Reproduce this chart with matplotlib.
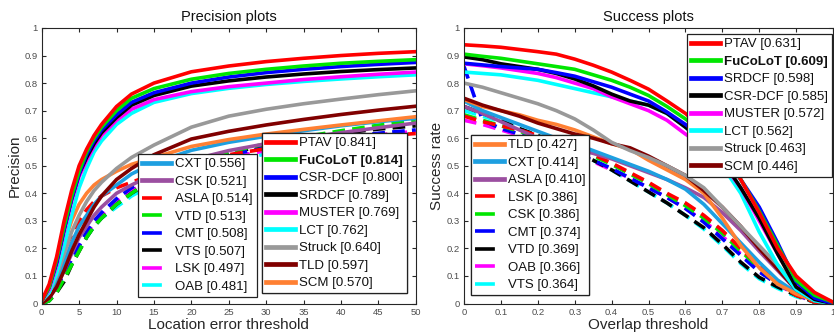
import matplotlib
matplotlib.use('Agg')
import matplotlib.pyplot as plt
from matplotlib.lines import Line2D

plt.rcParams['font.family'] = ['Liberation Sans', 'DejaVu Sans']

# ---------------- Precision plot data ----------------
prec_x = [0, 1, 2, 3, 4, 5, 6, 7, 8, 10, 12, 15, 20, 25, 30, 35, 40, 45, 50]

prec_ptav = [0.01, 0.07, 0.17, 0.30, 0.41, 0.50, 0.56, 0.61, 0.65, 0.715, 0.76, 0.80, 0.841, 0.862, 0.878, 0.890, 0.900, 0.908, 0.914]
prec_fucolot = [0.01, 0.06, 0.16, 0.28, 0.39, 0.48, 0.55, 0.60, 0.64, 0.70, 0.745, 0.78, 0.814, 0.835, 0.850, 0.862, 0.872, 0.879, 0.885]
prec_csrdcf = [0.01, 0.06, 0.15, 0.27, 0.38, 0.47, 0.54, 0.59, 0.63, 0.685, 0.73, 0.765, 0.800, 0.822, 0.838, 0.850, 0.860, 0.868, 0.875]
prec_srdcf = [0.01, 0.06, 0.15, 0.27, 0.38, 0.47, 0.53, 0.58, 0.62, 0.675, 0.72, 0.755, 0.789, 0.808, 0.822, 0.833, 0.842, 0.849, 0.855]
prec_muster = [0.01, 0.05, 0.14, 0.26, 0.37, 0.46, 0.52, 0.57, 0.61, 0.665, 0.705, 0.74, 0.769, 0.787, 0.800, 0.813, 0.823, 0.832, 0.840]
prec_lct = [0.01, 0.04, 0.11, 0.21, 0.32, 0.42, 0.49, 0.55, 0.59, 0.65, 0.69, 0.73, 0.762, 0.781, 0.795, 0.806, 0.815, 0.823, 0.830]
prec_struck = [0.01, 0.04, 0.10, 0.18, 0.26, 0.32, 0.37, 0.41, 0.44, 0.49, 0.53, 0.575, 0.640, 0.680, 0.705, 0.725, 0.742, 0.758, 0.772]
prec_tld = [0.0, 0.02, 0.06, 0.12, 0.19, 0.25, 0.30, 0.35, 0.39, 0.45, 0.49, 0.54, 0.597, 0.625, 0.648, 0.668, 0.686, 0.702, 0.716]
prec_scm = [0.01, 0.05, 0.13, 0.22, 0.30, 0.36, 0.40, 0.43, 0.45, 0.48, 0.505, 0.53, 0.570, 0.595, 0.615, 0.632, 0.648, 0.663, 0.678]
prec_cxt = [0.01, 0.03, 0.08, 0.15, 0.22, 0.28, 0.32, 0.36, 0.39, 0.43, 0.47, 0.51, 0.556, 0.585, 0.607, 0.627, 0.645, 0.660, 0.672]
prec_csk = [0.0, 0.02, 0.06, 0.12, 0.18, 0.24, 0.28, 0.32, 0.35, 0.40, 0.43, 0.47, 0.521, 0.555, 0.580, 0.600, 0.620, 0.638, 0.655]
prec_asla = [0.01, 0.05, 0.12, 0.19, 0.25, 0.30, 0.34, 0.37, 0.39, 0.42, 0.44, 0.47, 0.514, 0.540, 0.562, 0.580, 0.595, 0.607, 0.617]
prec_vtd = [0.0, 0.01, 0.04, 0.09, 0.14, 0.19, 0.24, 0.28, 0.31, 0.36, 0.40, 0.455, 0.513, 0.550, 0.580, 0.605, 0.627, 0.647, 0.665]
prec_cmt = [0.0, 0.02, 0.06, 0.11, 0.16, 0.21, 0.26, 0.30, 0.33, 0.38, 0.42, 0.465, 0.508, 0.540, 0.565, 0.585, 0.603, 0.618, 0.630]
prec_vts = [0.0, 0.01, 0.04, 0.08, 0.14, 0.19, 0.24, 0.28, 0.31, 0.36, 0.40, 0.45, 0.507, 0.545, 0.575, 0.600, 0.618, 0.633, 0.645]
prec_lsk = [0.0, 0.02, 0.06, 0.11, 0.16, 0.21, 0.25, 0.29, 0.32, 0.37, 0.41, 0.45, 0.497, 0.530, 0.555, 0.577, 0.596, 0.612, 0.625]
prec_oab = [0.0, 0.01, 0.05, 0.10, 0.15, 0.20, 0.24, 0.28, 0.31, 0.35, 0.39, 0.435, 0.481, 0.515, 0.543, 0.567, 0.587, 0.604, 0.618]

prec_names = ['PTAV', 'FuCoLoT', 'CSR-DCF', 'SRDCF', 'MUSTER', 'LCT', 'Struck', 'TLD', 'SCM',
              'CXT', 'CSK', 'ASLA', 'VTD', 'CMT', 'VTS', 'LSK', 'OAB']
prec_scores = [0.841, 0.814, 0.800, 0.789, 0.769, 0.762, 0.640, 0.597, 0.570,
               0.556, 0.521, 0.514, 0.513, 0.508, 0.507, 0.497, 0.481]
prec_curves = [prec_ptav, prec_fucolot, prec_csrdcf, prec_srdcf, prec_muster, prec_lct, prec_struck,
               prec_tld, prec_scm, prec_cxt, prec_csk, prec_asla, prec_vtd, prec_cmt, prec_vts,
               prec_lsk, prec_oab]

# ---------------- Success plot data ----------------
succ_x = [0, 0.05, 0.1, 0.15, 0.2, 0.25, 0.3, 0.35, 0.4, 0.45, 0.5,
          0.55, 0.6, 0.65, 0.7, 0.75, 0.8, 0.85, 0.9, 0.95, 1.0]

succ_ptav = [0.939, 0.935, 0.930, 0.922, 0.914, 0.905, 0.887, 0.865, 0.840, 0.810, 0.778, 0.735, 0.690, 0.630, 0.560, 0.450, 0.330, 0.200, 0.100, 0.040, 0.005]
succ_fucolot = [0.905, 0.897, 0.890, 0.880, 0.870, 0.860, 0.850, 0.830, 0.810, 0.785, 0.755, 0.715, 0.670, 0.620, 0.550, 0.450, 0.335, 0.210, 0.085, 0.030, 0.005]
succ_srdcf = [0.872, 0.866, 0.860, 0.855, 0.850, 0.838, 0.825, 0.805, 0.785, 0.760, 0.735, 0.695, 0.650, 0.600, 0.540, 0.450, 0.350, 0.220, 0.080, 0.020, 0.0]
succ_csrdcf = [0.895, 0.885, 0.870, 0.860, 0.850, 0.835, 0.815, 0.790, 0.760, 0.735, 0.720, 0.690, 0.640, 0.585, 0.520, 0.420, 0.310, 0.180, 0.060, 0.015, 0.0]
succ_muster = [0.870, 0.863, 0.855, 0.845, 0.835, 0.820, 0.800, 0.780, 0.750, 0.725, 0.700, 0.665, 0.615, 0.570, 0.510, 0.420, 0.300, 0.180, 0.070, 0.020, 0.0]
succ_lct = [0.840, 0.835, 0.830, 0.820, 0.810, 0.795, 0.780, 0.765, 0.750, 0.735, 0.720, 0.690, 0.640, 0.580, 0.500, 0.400, 0.260, 0.140, 0.050, 0.010, 0.0]
succ_struck = [0.800, 0.785, 0.765, 0.745, 0.725, 0.700, 0.670, 0.630, 0.585, 0.555, 0.530, 0.500, 0.465, 0.420, 0.350, 0.280, 0.210, 0.140, 0.060, 0.020, 0.0]
succ_scm = [0.745, 0.720, 0.700, 0.680, 0.655, 0.635, 0.615, 0.600, 0.580, 0.565, 0.535, 0.500, 0.465, 0.410, 0.350, 0.280, 0.200, 0.125, 0.050, 0.010, 0.0]
succ_tld = [0.740, 0.715, 0.700, 0.685, 0.665, 0.650, 0.630, 0.605, 0.580, 0.560, 0.520, 0.485, 0.450, 0.400, 0.310, 0.210, 0.130, 0.070, 0.035, 0.010, 0.0]
succ_cxt = [0.735, 0.700, 0.675, 0.650, 0.625, 0.600, 0.580, 0.555, 0.530, 0.505, 0.480, 0.450, 0.415, 0.360, 0.290, 0.220, 0.150, 0.085, 0.040, 0.010, 0.0]
succ_asla = [0.715, 0.690, 0.660, 0.630, 0.600, 0.580, 0.560, 0.545, 0.525, 0.500, 0.475, 0.450, 0.420, 0.385, 0.330, 0.265, 0.190, 0.120, 0.050, 0.010, 0.0]
succ_lsk = [0.680, 0.660, 0.645, 0.630, 0.610, 0.590, 0.565, 0.540, 0.510, 0.475, 0.440, 0.400, 0.365, 0.320, 0.265, 0.200, 0.135, 0.075, 0.030, 0.005, 0.0]
succ_csk = [0.685, 0.665, 0.645, 0.625, 0.605, 0.585, 0.560, 0.535, 0.505, 0.470, 0.435, 0.395, 0.355, 0.310, 0.255, 0.190, 0.130, 0.075, 0.030, 0.005, 0.0]
succ_cmt = [0.860, 0.665, 0.635, 0.615, 0.595, 0.570, 0.545, 0.520, 0.490, 0.455, 0.420, 0.385, 0.345, 0.295, 0.235, 0.175, 0.115, 0.070, 0.035, 0.005, 0.0]
succ_vtd = [0.715, 0.690, 0.665, 0.635, 0.610, 0.580, 0.550, 0.520, 0.485, 0.445, 0.405, 0.365, 0.320, 0.275, 0.215, 0.150, 0.095, 0.060, 0.030, 0.005, 0.0]
succ_oab = [0.665, 0.650, 0.630, 0.610, 0.590, 0.565, 0.540, 0.515, 0.485, 0.455, 0.420, 0.385, 0.345, 0.300, 0.245, 0.180, 0.120, 0.070, 0.030, 0.005, 0.0]
succ_vts = [0.700, 0.680, 0.660, 0.635, 0.610, 0.580, 0.550, 0.520, 0.485, 0.445, 0.405, 0.365, 0.320, 0.270, 0.210, 0.145, 0.090, 0.055, 0.025, 0.005, 0.0]

succ_names = ['PTAV', 'FuCoLoT', 'SRDCF', 'CSR-DCF', 'MUSTER', 'LCT', 'Struck', 'SCM',
              'TLD', 'CXT', 'ASLA', 'LSK', 'CSK', 'CMT', 'VTD', 'OAB', 'VTS']
succ_scores = [0.631, 0.609, 0.598, 0.585, 0.572, 0.562, 0.463, 0.446,
               0.427, 0.414, 0.410, 0.386, 0.386, 0.374, 0.369, 0.366, 0.364]
succ_curves = [succ_ptav, succ_fucolot, succ_srdcf, succ_csrdcf, succ_muster, succ_lct, succ_struck,
               succ_scm, succ_tld, succ_cxt, succ_asla, succ_lsk, succ_csk, succ_cmt, succ_vtd,
               succ_oab, succ_vts]

# line style by rank (same colour order in both plots)
rank_colors = ['#ff0000', '#00e600', '#0000ff', '#000000', '#ff00ff', '#00ffff', '#999999',
               '#800000', '#ff8033', '#1e9fe0', '#9b4fa0',
               '#ff0000', '#00e600', '#0000ff', '#000000', '#ff00ff', '#00ffff']
rank_dashed = [False] * 11 + [True] * 6

LW = 2.6
TXT = '#262626'


def setup_axis(ax, xmax, xticks, xlabels, xlabel, ylabel, title):
    ax.set_xlim(0, xmax)
    ax.set_ylim(0, 1)
    ax.set_xticks(xticks)
    ax.set_xticklabels(xlabels)
    yt = [i / 10 for i in range(11)]
    ax.set_yticks(yt)
    ax.set_yticklabels(['0'] + ['%.1f' % v for v in yt[1:-1]] + ['1'])
    ax.tick_params(direction='in', top=True, right=True, length=3, width=0.8,
                   labelsize=6.8, labelcolor='#4d4d4d', color=TXT, pad=3)
    for s in ax.spines.values():
        s.set_color(TXT)
        s.set_linewidth(0.8)
    ax.set_xlabel(xlabel, fontsize=11, color=TXT, labelpad=1)
    ax.set_ylabel(ylabel, fontsize=11, color=TXT, labelpad=2)
    ax.set_title(title, fontsize=10.5, color='#111111', pad=5)


def draw(ax, x, curves):
    # lowest ranks first so the best trackers sit on top
    for r in range(len(curves) - 1, -1, -1):
        if rank_dashed[r]:
            ax.plot(x, curves[r], color=rank_colors[r], lw=LW, dashes=(3.5, 2.0),
                    solid_capstyle='butt', dash_capstyle='butt')
        else:
            ax.plot(x, curves[r], color=rank_colors[r], lw=LW)


def add_legend(ax, fig, names, scores, ranks, anchor):
    handles, labels = [], []
    for r in ranks:
        if rank_dashed[r]:
            h = Line2D([], [], color=rank_colors[r], lw=LW, dashes=(5.5, 10), dash_capstyle='butt')
        else:
            h = Line2D([], [], color=rank_colors[r], lw=LW + 0.8)
        handles.append(h)
        labels.append('%s [%.3f]' % (names[r], scores[r]))
    leg = ax.legend(handles, labels, loc='upper left', bbox_to_anchor=anchor,
                    bbox_transform=fig.transFigure, fontsize=9.5, frameon=True,
                    fancybox=False, framealpha=1, edgecolor='#222222', borderaxespad=0,
                    handlelength=2.2, handletextpad=0.3, borderpad=0.3, labelspacing=0.4)
    leg.get_frame().set_linewidth(0.9)
    for t in leg.get_texts():
        t.set_color('#111111')
        if t.get_text().startswith('FuCoLoT'):
            t.set_fontweight('bold')
    ax.add_artist(leg)
    return leg


fig = plt.figure(figsize=(8.34, 3.36), dpi=100)
ax1 = fig.add_axes([0.050, 0.0967, 0.4485, 0.82])
ax2 = fig.add_axes([0.5564, 0.0967, 0.4424, 0.82])

# Precision plots
draw(ax1, prec_x, prec_curves)
setup_axis(ax1, 50, list(range(0, 51, 5)), [str(v) for v in range(0, 51, 5)],
           'Location error threshold', 'Precision', 'Precision plots')
add_legend(ax1, fig, prec_names, prec_scores, list(range(9, 17)), (0.1655, 0.5417))
add_legend(ax1, fig, prec_names, prec_scores, list(range(0, 9)), (0.3141, 0.6042))

# Success plots
draw(ax2, succ_x, succ_curves)
sx = [i / 10 for i in range(11)]
setup_axis(ax2, 1, sx, ['0'] + ['%.1f' % v for v in sx[1:-1]] + ['1'],
           'Overlap threshold', 'Success rate', 'Success plots')
add_legend(ax2, fig, succ_names, succ_scores, list(range(0, 8)), (0.8237, 0.8988))
add_legend(ax2, fig, succ_names, succ_scores, list(range(8, 17)), (0.5647, 0.5982))

fig.savefig('out.png', dpi=100)
